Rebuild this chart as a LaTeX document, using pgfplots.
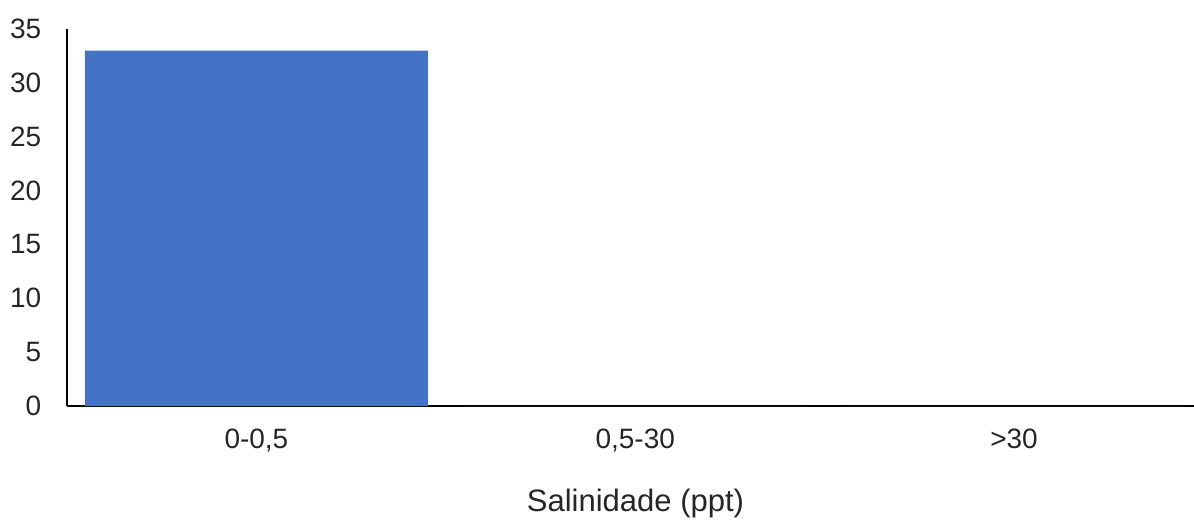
\documentclass[border=0pt]{standalone}
\usepackage{pgfplots}
\pgfplotsset{compat=1.18}
\usepackage{fontspec}
\setmainfont{Liberation Sans}
\definecolor{barblue}{HTML}{4472C4}
\begin{document}
\fontsize{14pt}{17pt}\selectfont
\begin{tikzpicture}
\begin{axis}[
  scale only axis,
  width=563.5pt, height=188.5pt,
  xmin=-0.5, xmax=2.475,
  ymin=0, ymax=35,
  ytick={0,5,...,35},
  xtick={0,1,2},
  xticklabels={{0-0,5}, {0,5-30}, {>30}},
  major tick length=0pt,
  axis x line*=bottom, axis y line*=left,
  axis line style={black, line width=0.7pt, -},
  /pgf/number format/assume math mode=true,
  tick label style={font=\fontsize{14pt}{17pt}\selectfont, text=black!85},
  yticklabel style={xshift=-8pt},
  xticklabel style={yshift=-6.5pt},
  xlabel={Salinidade (ppt)},
  xlabel style={font=\fontsize{15.5pt}{18pt}\selectfont, text=black!85, yshift=-9pt, xshift=2.5pt},
  ybar, bar width=0.905,
  clip=false,
]
\addplot[fill=barblue, draw=none] coordinates {(0,33) (1,0) (2,0)};
\end{axis}
\pgfresetboundingbox
\useasboundingbox (-33.5pt,-57pt) rectangle (563.5pt,203pt);
\end{tikzpicture}
\end{document}
